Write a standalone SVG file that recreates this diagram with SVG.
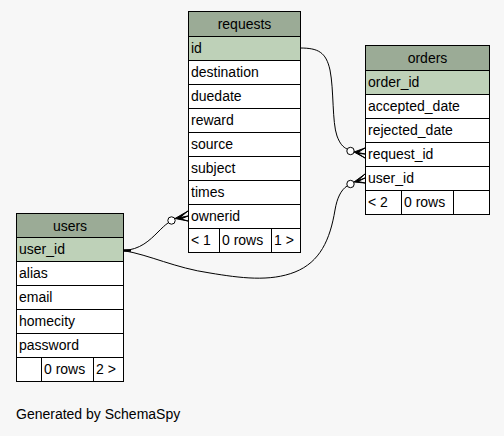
<svg xmlns="http://www.w3.org/2000/svg" width="504" height="436" viewBox="0 0 504 436">
<style>
text{font-family:"Liberation Sans",Arial,sans-serif;font-size:14px;fill:#000}
.h{fill:#9bab96;stroke:#000;stroke-width:1}
.pk{fill:#bed1b8;stroke:#000;stroke-width:1}
.c{fill:#fff;stroke:#000;stroke-width:1}
.m{text-anchor:middle}
.e{fill:none;stroke:#000;stroke-width:1}
.crow{fill:#000;stroke:#000;stroke-width:1}
.dot{fill:#fff;stroke:#000;stroke-width:1}
</style>
<rect width="504" height="436" fill="#f7f7f7"/>
<g id="requests">
<rect class="h" x="188.5" y="11.5" width="112" height="25"/>
<text class="m" x="244.5" y="29">requests</text>
<rect class="pk" x="188.5" y="36.5" width="112" height="24"/><text x="191" y="53">id</text>
<rect class="c" x="188.5" y="60.5" width="112" height="24"/><text x="191" y="77">destination</text>
<rect class="c" x="188.5" y="84.5" width="112" height="24"/><text x="191" y="101">duedate</text>
<rect class="c" x="188.5" y="108.5" width="112" height="24"/><text x="191" y="125">reward</text>
<rect class="c" x="188.5" y="132.5" width="112" height="24"/><text x="191" y="149">source</text>
<rect class="c" x="188.5" y="156.5" width="112" height="24"/><text x="191" y="173">subject</text>
<rect class="c" x="188.5" y="180.5" width="112" height="24"/><text x="191" y="197">times</text>
<rect class="c" x="188.5" y="204.5" width="112" height="24"/><text x="191" y="221">ownerid</text>
<rect class="c" x="188.5" y="228.5" width="31" height="24"/><text x="191" y="245">&lt; 1</text>
<rect class="c" x="219.5" y="228.5" width="52" height="24"/><text x="222" y="245">0 rows</text>
<rect class="c" x="271.5" y="228.5" width="29" height="24"/><text x="274" y="245">1 &gt;</text>
</g>
<g id="orders">
<rect class="h" x="365.5" y="45.5" width="124" height="25"/>
<text class="m" x="427.5" y="63">orders</text>
<rect class="pk" x="365.5" y="70.5" width="124" height="24"/><text x="368" y="87">order_id</text>
<rect class="c" x="365.5" y="94.5" width="124" height="24"/><text x="368" y="111">accepted_date</text>
<rect class="c" x="365.5" y="118.5" width="124" height="24"/><text x="368" y="135">rejected_date</text>
<rect class="c" x="365.5" y="142.5" width="124" height="24"/><text x="368" y="159">request_id</text>
<rect class="c" x="365.5" y="166.5" width="124" height="24"/><text x="368" y="183">user_id</text>
<rect class="c" x="365.5" y="190.5" width="36" height="24"/><text x="368" y="207">&lt; 2</text>
<rect class="c" x="401.5" y="190.5" width="52" height="24"/><text x="404" y="207">0 rows</text>
<rect class="c" x="453.5" y="190.5" width="36" height="24"/>
</g>
<g id="users">
<rect class="h" x="16.5" y="213.5" width="107" height="24"/>
<text class="m" x="70" y="231">users</text>
<rect class="pk" x="16.5" y="237.5" width="107" height="24"/><text x="19" y="254">user_id</text>
<rect class="c" x="16.5" y="261.5" width="107" height="24"/><text x="19" y="278">alias</text>
<rect class="c" x="16.5" y="285.5" width="107" height="24"/><text x="19" y="302">email</text>
<rect class="c" x="16.5" y="309.5" width="107" height="24"/><text x="19" y="326">homecity</text>
<rect class="c" x="16.5" y="333.5" width="107" height="24"/><text x="19" y="350">password</text>
<rect class="c" x="16.5" y="357.5" width="25" height="24"/>
<rect class="c" x="41.5" y="357.5" width="52" height="24"/><text x="44" y="374">0 rows</text>
<rect class="c" x="93.5" y="357.5" width="30" height="24"/><text x="96" y="374">2 &gt;</text>
</g>
<g id="connectors">
<path class="e" d="M300,48 C318,48 326,52 330,70 C334,90 332,122 337,136 C340,144 343,147 347,149"/>
<circle class="dot" cx="350.5" cy="151" r="3.7"/>
<path class="crow" d="M354,152 L365,148 L358,152.5 L365,154 L358,153.5 L365,158 Z"/>
<path class="e" d="M123,250.5 C140,250 150,240 158,232 C162,228 165,225 168,223"/>
<circle class="dot" cx="171.5" cy="220.5" r="3.7"/>
<path class="crow" d="M175,218.5 L188,211 L180,217.5 L188,216 L181,219 L188,221 Z"/>
<path class="e" d="M123,250.5 C150,255 175,268 210,273 C240,278 270,282 295,272 C320,262 330,240 335,210 C337,198 341,190 347,186"/>
<circle class="dot" cx="350.5" cy="184" r="3.7"/>
<path class="crow" d="M354,182 L365,174 L358,180.5 L365,178 L358,181.5 L365,183 Z"/>
<path d="M123,250.5 H131" stroke="#000" stroke-width="2.5"/>
</g>
<text x="16" y="419">Generated by SchemaSpy</text>
</svg>
